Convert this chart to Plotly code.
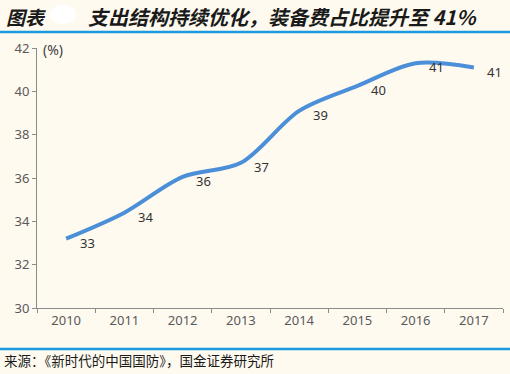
import plotly.graph_objects as go

years = ["2010", "2011", "2012", "2013", "2014", "2015", "2016", "2017"]
share = [33.2, 34.4, 36.05, 36.7, 39.1, 40.25, 41.3, 41.1]
labels = ["33", "34", "36", "37", "39", "40", "41", "41"]
y_ticks = [30, 32, 34, 36, 38, 40, 42]

BG = "#fffaf0"
CJK = "Noto Sans CJK SC"
PW, PH = 466, 260  # plot area size in px

fig = go.Figure()
fig.add_trace(go.Scatter(
    x=years, y=share, mode="lines",
    line=dict(color="#4a8fd8", width=4, shape="spline", smoothing=0.9),
    hoverinfo="skip", showlegend=False,
))

ann = []
for i, (v, t) in enumerate(zip(share, labels)):
    ann.append(dict(x=i, y=v, xref="x", yref="y", text=t, showarrow=False,
                    xshift=21, yshift=-4,
                    font=dict(family="Noto Sans, DejaVu Sans", size=13, color="#333333")))

ann += [
    dict(text="<b><i>图表</i></b>", xref="paper", yref="paper",
         x=-33/PW, y=1 + 32/PH, xanchor="left", yanchor="middle", showarrow=False,
         font=dict(family=CJK, size=19, color="#1a1a1a")),
    dict(text="<b><i>支出结构持续优化，装备费占比提升至 41%</i></b>", xref="paper", yref="paper",
         x=(86-37)/PW, y=1 + 32/PH, xanchor="left", yanchor="middle", showarrow=False,
         font=dict(family=CJK, size=20, color="#1a1a1a")),
    dict(text="(%)", xref="paper", yref="paper", x=4/PW, y=1 - 2/PH,
         xanchor="left", yanchor="middle", showarrow=False,
         font=dict(family="Noto Sans, DejaVu Sans", size=14, color="#404040")),
    dict(text="来源：《新时代的中国国防》，国金证券研究所", xref="paper", yref="paper",
         x=-35/PW, y=-52/PH, xanchor="left", yanchor="middle", showarrow=False,
         font=dict(family=CJK, size=13.5, color="#1a1a1a")),
]

fig.update_layout(
    width=510, height=374,
    paper_bgcolor=BG, plot_bgcolor=BG,
    margin=dict(l=37, r=7, t=48, b=66, autoexpand=False),
    xaxis=dict(
        type="category", showgrid=False, showline=True, linecolor="#8c8c8c", linewidth=1,
        ticks="outside", ticklen=4, tickcolor="#8c8c8c", tickson="boundaries",
        tickfont=dict(family="Noto Sans, DejaVu Sans", size=13, color="#595959"),
        range=[-0.5, 7.5], automargin=False,
    ),
    yaxis=dict(
        range=[30, 42], tickvals=y_ticks, showgrid=False, showline=True,
        linecolor="#8c8c8c", linewidth=1, ticks="outside", ticklen=4, tickcolor="#8c8c8c",
        tickfont=dict(family="Noto Sans, DejaVu Sans", size=13, color="#595959"),
        zeroline=False, automargin=False,
    ),
    font=dict(family=CJK),
    shapes=[
        dict(type="line", xref="paper", yref="paper", x0=-37/PW, x1=1 + 7/PW,
             y0=1 + 16/PH, y1=1 + 16/PH, line=dict(color="#1a9be0", width=2.5)),
        dict(type="line", xref="paper", yref="paper", x0=-37/PW, x1=1 + 7/PW,
             y0=-41/PH, y1=-41/PH, line=dict(color="#1a9be0", width=2.5)),
        dict(type="circle", xref="paper", yref="paper", x0=(50-37)/PW, x1=(76-37)/PW,
             y0=1 + 24/PH, y1=1 + 43/PH, fillcolor="#ffffff", line=dict(width=0)),
    ],
    annotations=ann,
)

fig.write_html("out.html", config={"displayModeBar": False},
               post_script="document.body.style.margin='0';document.body.style.overflow='hidden';")
